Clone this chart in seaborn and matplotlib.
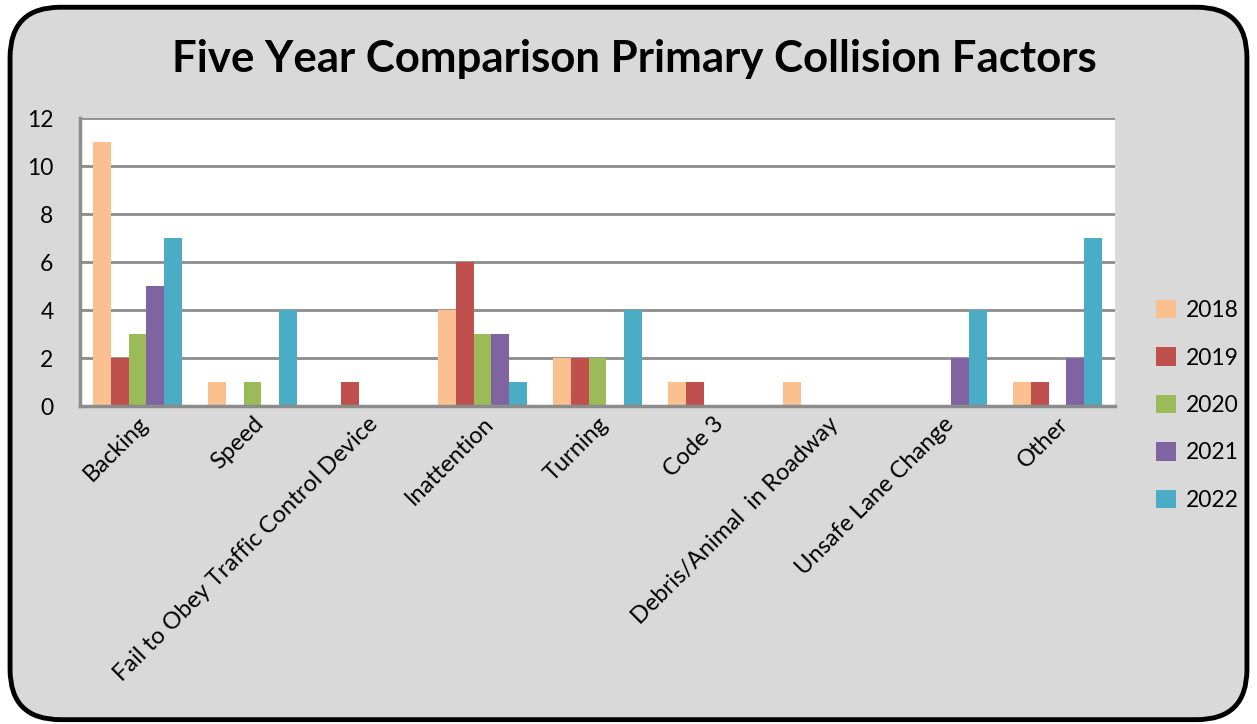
import pandas as pd
import matplotlib.pyplot as plt
import seaborn as sns
from matplotlib.patches import FancyBboxPatch

categories = ['Backing', 'Speed', 'Fail to Obey Traffic Control Device', 'Inattention',
              'Turning', 'Code 3', 'Debris/Animal  in Roadway', 'Unsafe Lane Change', 'Other']
years = ['2018', '2019', '2020', '2021', '2022']
v2018 = [11, 1, 0, 4, 2, 1, 1, 0, 1]
v2019 = [2, 0, 1, 6, 2, 1, 0, 0, 1]
v2020 = [3, 1, 0, 3, 2, 0, 0, 0, 0]
v2021 = [5, 0, 0, 3, 0, 0, 0, 2, 2]
v2022 = [7, 4, 0, 1, 4, 0, 0, 4, 7]
colors = ['#FAC090', '#C0504D', '#9BBB59', '#8064A2', '#4BACC6']


def build_frame():
    rows = []
    for yr, vals in zip(years, [v2018, v2019, v2020, v2021, v2022]):
        for cat, v in zip(categories, vals):
            rows.append({'Factor': cat, 'Year': yr, 'Count': v})
    return pd.DataFrame(rows)


def plot_collision_factors(df):
    sns.set_style('white')
    plt.rcParams['font.family'] = ['Lato', 'DejaVu Sans']
    plt.rcParams['text.color'] = 'black'
    plt.rcParams['xtick.color'] = 'black'
    plt.rcParams['ytick.color'] = 'black'
    fig = plt.figure(figsize=(12.57, 7.24), dpi=100)
    fig.patch.set_facecolor('white')

    # rounded gray frame behind everything
    frame = FancyBboxPatch((0.008, 0.006), 0.984, 0.984,
                           boxstyle='round,pad=0,rounding_size=0.04',
                           transform=fig.transFigure, facecolor='#D9D9D9',
                           edgecolor='black', linewidth=3.5, mutation_aspect=1.74,
                           zorder=-10)
    fig.patches.append(frame)

    ax = fig.add_axes([0.0636, 0.439, 0.8235, 0.398])
    ax.set_zorder(2)
    sns.barplot(data=df, x='Factor', y='Count', hue='Year', palette=colors,
                saturation=1, width=0.775, gap=0, ax=ax, order=categories,
                hue_order=years, linewidth=0)
    ax.set_facecolor('white')
    ax.set_ylim(0, 12)
    ax.set_yticks(range(0, 13, 2))
    ax.yaxis.grid(True, color='#8C8C8C', linewidth=2)
    ax.set_axisbelow(True)
    for s in ['top', 'right']:
        ax.spines[s].set_visible(False)
    for s in ['left', 'bottom']:
        ax.spines[s].set_color('#8C8C8C')
        ax.spines[s].set_linewidth(2.5)
    ax.set_xlabel('')
    ax.set_ylabel('')
    ax.tick_params(axis='y', labelsize=16.5, length=0, pad=19)
    ax.tick_params(axis='x', labelsize=17, length=0, pad=5)
    ax.set_xticks(range(len(categories)))
    ax.set_xticklabels(categories, rotation=45, ha='right', rotation_mode='anchor')

    handles, labels = ax.get_legend_handles_labels()
    ax.legend(handles, labels, loc='upper left', bbox_to_anchor=(1.02, 0.44),
              frameon=False, fontsize=16.5, handlelength=0.85, handleheight=0.85,
              labelspacing=1.15, handletextpad=0.45)

    fig.text(0.505, 0.918, 'Five Year Comparison Primary Collision Factors',
             ha='center', va='center', fontsize=31.5, fontweight='bold')
    fig.savefig('out.png', dpi=100, facecolor='white')


if __name__ == "__main__":
    df = build_frame()
    plot_collision_factors(df)
